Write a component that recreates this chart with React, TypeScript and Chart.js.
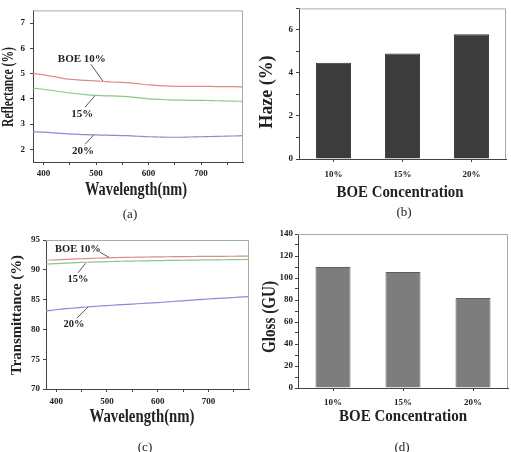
import React, { useEffect, useRef } from "react";
import { Chart, registerables } from "chart.js";

Chart.register(...registerables);

// ---------- data ----------
const wavelengths = [380, 400, 420, 440, 460, 480, 500, 520, 540, 560, 580, 600, 620, 640, 660, 680, 700, 720, 740, 760, 780];
const reflect10 = [5.0, 4.95, 4.88, 4.8, 4.76, 4.73, 4.71, 4.68, 4.66, 4.64, 4.6, 4.55, 4.52, 4.5, 4.49, 4.49, 4.49, 4.49, 4.48, 4.48, 4.47];
const reflect15 = [4.42, 4.38, 4.32, 4.26, 4.21, 4.17, 4.14, 4.12, 4.11, 4.09, 4.05, 4.0, 3.98, 3.96, 3.95, 3.94, 3.94, 3.93, 3.92, 3.91, 3.9];
const reflect20 = [2.7, 2.68, 2.65, 2.62, 2.6, 2.58, 2.57, 2.56, 2.55, 2.54, 2.52, 2.5, 2.49, 2.48, 2.48, 2.49, 2.5, 2.51, 2.52, 2.53, 2.54];
const trans10 = [91.6, 91.68, 91.75, 91.82, 91.88, 91.94, 92.0, 92.05, 92.09, 92.12, 92.15, 92.17, 92.19, 92.21, 92.22, 92.24, 92.25, 92.26, 92.27, 92.28, 92.3];
const trans15 = [90.95, 91.05, 91.13, 91.2, 91.27, 91.32, 91.37, 91.41, 91.45, 91.48, 91.51, 91.54, 91.57, 91.59, 91.62, 91.64, 91.66, 91.68, 91.7, 91.72, 91.74];
const trans20 = [83.1, 83.3, 83.47, 83.62, 83.76, 83.88, 84.0, 84.1, 84.2, 84.3, 84.4, 84.5, 84.62, 84.74, 84.86, 84.98, 85.1, 85.2, 85.3, 85.4, 85.5];
const concentrations = ["10%", "15%", "20%"];
const hazeValues = [4.47, 4.9, 5.8];
const glossValues = [110, 105.5, 81.8];

const wavelengthTicks = [400, 450, 500, 550, 600, 650, 700, 750];
const reflectTicks = [2, 3, 4, 5, 6, 7];
const transTicks = [70, 75, 80, 85, 90, 95];
const hazeTicks = [0, 1, 2, 3, 4, 5, 6, 7];
const glossTicks = [0, 10, 20, 30, 40, 50, 60, 70, 80, 90, 100, 110, 120, 130, 140];

const seriesLabels = ["BOE 10%", "15%", "20%"];

// annotation placements (data units)
const reflectNotes = [
  { x: 473, y: 5.56, from: [490, 5.37], to: [513, 4.71] },
  { x: 474, y: 3.4, from: [479, 3.67], to: [498, 4.12] },
  { x: 475, y: 1.93, from: [479, 2.2], to: [496, 2.58] },
];
const transNotes = [
  { x: 443, y: 93.49, from: [486, 92.98], to: [504, 92.1] },
  { x: 443, y: 88.46, from: [443, 89.5], to: [458, 91.1] },
  { x: 435, y: 80.9, from: [441, 81.9], to: [463, 83.76] },
];

// ---------- styles ----------
const FAMILY = "'Liberation Serif', 'Times New Roman', serif";
const TEXT = "#222";
const AXIS = "#444";
const FRAME = "#aaa";
const LINE_COLORS = ["#e08a8a", "#86c986", "#8a8ad8"];

function fitText(ctx: CanvasRenderingContext2D, text: string, cx: number, cy: number, font: string, width: number | null, rot = 0) {
  ctx.save();
  ctx.font = font;
  ctx.fillStyle = TEXT;
  const w = ctx.measureText(text).width;
  ctx.translate(cx, cy);
  if (rot) ctx.rotate(rot);
  if (width) ctx.scale(width / w, 1);
  ctx.textAlign = "center";
  ctx.textBaseline = "middle";
  ctx.fillText(text, 0, 0);
  ctx.restore();
}

type Deco = {
  yTitle: string; yPos: [number, number]; yFont: number; yLen: number;
  xTitle: string; xPos: [number, number]; xFont: number; xLen: number;
  caption: string; capPos: [number, number];
  notes?: { x: number; y: number; from: number[]; to: number[] }[];
  noteFont?: number;
};

function decoPlugin(d: Deco) {
  return {
    id: "deco",
    afterDraw(chart: any) {
      const ctx = chart.ctx as CanvasRenderingContext2D;
      const a = chart.chartArea;
      ctx.save();
      ctx.strokeStyle = FRAME;
      ctx.lineWidth = 1;
      ctx.beginPath();
      ctx.moveTo(a.left, a.top + 0.5);
      ctx.lineTo(a.right - 0.5, a.top + 0.5);
      ctx.lineTo(a.right - 0.5, a.bottom);
      ctx.stroke();
      ctx.restore();
      fitText(ctx, d.yTitle, d.yPos[0], d.yPos[1], `bold ${d.yFont}px ${FAMILY}`, d.yLen, -Math.PI / 2);
      fitText(ctx, d.xTitle, d.xPos[0], d.xPos[1], `bold ${d.xFont}px ${FAMILY}`, d.xLen);
      fitText(ctx, d.caption, d.capPos[0], d.capPos[1], `13px ${FAMILY}`, null);
      if (d.notes) {
        const xs = chart.scales.x;
        const ys = chart.scales.y;
        d.notes.forEach((n, i) => {
          ctx.save();
          ctx.strokeStyle = "#555";
          ctx.lineWidth = 1;
          ctx.beginPath();
          ctx.moveTo(xs.getPixelForValue(n.from[0]), ys.getPixelForValue(n.from[1]));
          ctx.lineTo(xs.getPixelForValue(n.to[0]), ys.getPixelForValue(n.to[1]));
          ctx.stroke();
          ctx.restore();
          fitText(ctx, seriesLabels[i], xs.getPixelForValue(n.x), ys.getPixelForValue(n.y), `bold ${d.noteFont}px ${FAMILY}`, null);
        });
      }
    },
  };
}

function tickFont(size: number) {
  return { family: FAMILY, size, weight: "bold" as const };
}

function lineConfig(opts: {
  series: number[][]; yMin: number; yMax: number; yTicks: number[];
  pad: { top: number; right: number }; yWidth: number; xHeight: number;
  xPad: number; yPad: number; deco: Deco;
}): any {
  return {
    type: "line",
    data: {
      datasets: opts.series.map((s, i) => ({
        data: wavelengths.map((w, j) => ({ x: w, y: s[j] })),
        borderColor: LINE_COLORS[i],
        borderWidth: 1.2,
        pointRadius: 0,
        tension: 0.3,
        fill: false,
      })),
    },
    options: {
      animation: false,
      responsive: false,
      layout: { padding: { top: opts.pad.top, right: opts.pad.right, left: 0, bottom: 0 } },
      plugins: { legend: { display: false }, tooltip: { enabled: false } },
      scales: {
        x: {
          type: "linear", min: 380, max: 780,
          afterBuildTicks: (s: any) => { s.ticks = wavelengthTicks.map((v) => ({ value: v })); },
          afterFit: (s: any) => { s.height = opts.xHeight; },
          grid: { drawOnChartArea: false, tickLength: 3, color: AXIS },
          border: { color: AXIS },
          ticks: { font: tickFont(9), color: TEXT, padding: opts.xPad, autoSkip: false, maxRotation: 0,
            callback: (v: number) => (v % 100 === 0 ? String(v) : "") },
        },
        y: {
          type: "linear", min: opts.yMin, max: opts.yMax,
          afterBuildTicks: (s: any) => { s.ticks = opts.yTicks.map((v) => ({ value: v })); },
          afterFit: (s: any) => { s.width = opts.yWidth; },
          grid: { drawOnChartArea: false, tickLength: 3, color: AXIS },
          border: { color: AXIS },
          ticks: { font: tickFont(9), color: TEXT, padding: opts.yPad, autoSkip: false, callback: (v: number) => String(v) },
        },
      },
    },
    plugins: [decoPlugin(opts.deco)],
  };
}

function barConfig(opts: {
  values: number[]; yMax: number; yTicks: number[]; labelEvery: number;
  pad: { top: number; right: number }; yWidth: number; xHeight: number;
  xPad: number; yPad: number; fill: string; border: string; barPct: number; fontSize: number; deco: Deco;
}): any {
  return {
    type: "bar",
    data: {
      labels: concentrations,
      datasets: [{ data: opts.values, backgroundColor: opts.fill, borderColor: opts.border, borderWidth: 1,
        categoryPercentage: 1, barPercentage: opts.barPct }],
    },
    options: {
      animation: false,
      responsive: false,
      layout: { padding: { top: opts.pad.top, right: opts.pad.right, left: 0, bottom: 0 } },
      plugins: { legend: { display: false }, tooltip: { enabled: false } },
      scales: {
        x: {
          type: "category",
          afterFit: (s: any) => { s.height = opts.xHeight; },
          grid: { drawOnChartArea: false, tickLength: 3, color: AXIS, offset: false },
          border: { color: AXIS },
          ticks: { font: tickFont(opts.fontSize), color: TEXT, padding: opts.xPad, maxRotation: 0 },
        },
        y: {
          type: "linear", min: 0, max: opts.yMax,
          afterBuildTicks: (s: any) => { s.ticks = opts.yTicks.map((v) => ({ value: v })); },
          afterFit: (s: any) => { s.width = opts.yWidth; },
          grid: { drawOnChartArea: false, tickLength: 3, color: AXIS },
          border: { color: AXIS },
          ticks: { font: tickFont(9), color: TEXT, padding: opts.yPad, autoSkip: false,
            callback: (v: number) => (v % opts.labelEvery === 0 ? String(v) : "") },
        },
      },
    },
    plugins: [decoPlugin(opts.deco)],
  };
}

function Panel({ left, top, width, height, build }: { left: number; top: number; width: number; height: number; build: () => any }) {
  const ref = useRef<HTMLCanvasElement>(null);
  useEffect(() => {
    const chart = new Chart(ref.current as HTMLCanvasElement, build());
    return () => chart.destroy();
  }, []);
  return (
    <canvas ref={ref} width={width} height={height}
      style={{ position: "absolute", left, top, width, height, display: "block" }} />
  );
}

export default function App() {
  return (
    <div style={{ position: "absolute", left: 0, top: 0, width: 511, height: 452, background: "#fff", overflow: "hidden" }}>
      <Panel left={0} top={0} width={255} height={225} build={() => lineConfig({
        series: [reflect10, reflect15, reflect20], yMin: 1.5, yMax: 7.5, yTicks: reflectTicks,
        pad: { top: 7, right: 12 }, yWidth: 33, xHeight: 63, xPad: 3, yPad: 5,
        deco: { yTitle: "Reflectance (%)", yPos: [9, 87], yFont: 17, yLen: 80,
          xTitle: "Wavelength(nm)", xPos: [136, 190], xFont: 18, xLen: 102,
          caption: "(a)", capPos: [130, 215], notes: reflectNotes, noteFont: 11 },
      })} />
      <Panel left={255} top={0} width={256} height={225} build={() => barConfig({
        values: hazeValues, yMax: 7, yTicks: hazeTicks, labelEvery: 2,
        pad: { top: 7, right: 5 }, yWidth: 44, xHeight: 66, xPad: 7, yPad: 3,
        fill: "#3c3c3c", border: "#333333", barPct: 0.51, fontSize: 9,
        deco: { yTitle: "Haze (%)", yPos: [12, 92], yFont: 19, yLen: 73,
          xTitle: "BOE Concentration", xPos: [145, 193], xFont: 17, xLen: 127,
          caption: "(b)", capPos: [149, 213] },
      })} />
      <Panel left={0} top={225} width={255} height={227} build={() => lineConfig({
        series: [trans10, trans15, trans20], yMin: 70, yMax: 95, yTicks: transTicks,
        pad: { top: 15, right: 6 }, yWidth: 46, xHeight: 63, xPad: 4, yPad: 3,
        deco: { yTitle: "Transmittance (%)", yPos: [17, 90], yFont: 15, yLen: 120,
          xTitle: "Wavelength(nm)", xPos: [142, 192], xFont: 18, xLen: 105,
          caption: "(c)", capPos: [145, 223], notes: transNotes, noteFont: 10.5 },
      })} />
      <Panel left={255} top={225} width={256} height={227} build={() => barConfig({
        values: glossValues, yMax: 140, yTicks: glossTicks, labelEvery: 20,
        pad: { top: 9, right: 3 }, yWidth: 43, xHeight: 64, xPad: 6, yPad: 2,
        fill: "#7d7d7d", border: "#5e5e5e", barPct: 0.5, fontSize: 9,
        deco: { yTitle: "Gloss (GU)", yPos: [15, 92], yFont: 18, yLen: 72,
          xTitle: "BOE Concentration", xPos: [148, 192], xFont: 17, xLen: 128,
          caption: "(d)", capPos: [147, 223] },
      })} />
    </div>
  );
}
